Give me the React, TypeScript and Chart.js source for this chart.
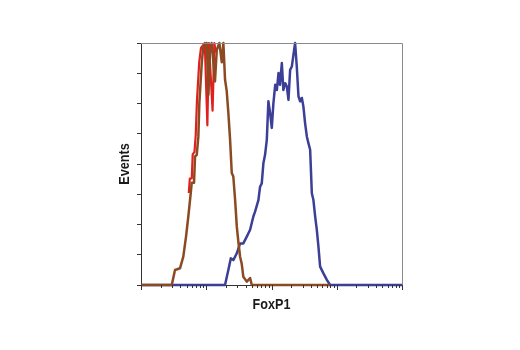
import React, { useEffect, useRef } from "react";
import { Chart, registerables } from "chart.js";

Chart.register(...registerables);

// Isotype/control (brown) histogram
const brownX = [1, 2.96, 3.32, 3.96, 4.45, 4.9, 5.31, 5.78, 5.99, 6.5, 6.73, 7.15, 7.57, 7.84, 8.53, 9.02, 10.2, 10.8, 11.4, 12.1, 13.6, 14.5, 15.9, 17.3, 18.3, 19.4, 20.6, 21.8, 23.2, 24.6, 26.0, 27.7, 29.4, 31.0, 33.0, 34.9, 37.0, 41.8, 47.0, 49.9, 790];
const brownY = [0, 0, 6.2, 6.9, 11.7, 20.0, 28.3, 37.9, 42.3, 42.3, 53.1, 53.8, 61.4, 75.2, 91.7, 98.6, 100, 78.6, 97.2, 100, 84.1, 97.2, 100, 92, 100, 84.9, 80.1, 71.2, 60, 46.3, 44.8, 35.1, 24.1, 18, 11.7, 8.9, 3.4, 1.4, 2.9, 0, 0];

// Second control (red) histogram, partly hidden under the brown one
const redX = [5.4, 5.6, 6.0, 6.2, 6.6, 6.9, 7.2, 7.8, 8.3, 9.5, 10.4, 11.0, 12.5, 13.3, 14.0];
const redY = [38, 44, 44, 54, 55, 62, 76, 92, 98, 100, 66, 100, 72, 100, 96];

// FoxP1 (blue) histogram
const blueX = [1, 19.4, 21.8, 23.8, 26.0, 29.4, 33.0, 37.0, 41.8, 47.0, 52.7, 56.0, 63.0, 66.8, 70.9, 75.1, 79.7, 84.7, 89.6, 95.1, 101, 107, 114, 121, 128, 135, 144, 152, 162, 172, 182, 193, 205, 217, 230, 244, 259, 275, 292, 308, 327, 348, 368, 391, 415, 439, 467, 495, 524, 556, 625, 705, 792, 10000];
const blueY = [0, 0, 6.2, 11.0, 10.3, 13.1, 17.2, 17.2, 20.0, 22.8, 28.3, 30.3, 35.1, 40.6, 42.0, 50.3, 53.8, 60, 75.9, 71.1, 64.9, 75.2, 82.7, 80.6, 87.6, 82.7, 91.7, 80.6, 83.4, 82.0, 76.5, 88.9, 90.3, 95.2, 100, 90.3, 78.0, 75.9, 77.3, 73.8, 66.9, 61.4, 58.6, 55.9, 37.9, 35.1, 28.3, 22.8, 15.9, 7.6, 4.8, 2.1, 0, 0];

const xTitle = "FoxP1";
const yTitle = "Events";

const pts = (xs: number[], ys: number[]) => xs.map((x, i) => ({ x, y: ys[i] }));

const decorPlugin = {
  id: "decor",
  afterDraw(chart: any) {
    const { ctx, chartArea, scales } = chart;
    const xs = scales.x;
    ctx.save();
    // top/right frame
    ctx.strokeStyle = "#8a8a8a";
    ctx.lineWidth = 1;
    ctx.beginPath();
    ctx.moveTo(chartArea.left, chartArea.top + 0.5);
    ctx.lineTo(chartArea.right + 0.5, chartArea.top + 0.5);
    ctx.lineTo(chartArea.right + 0.5, chartArea.bottom);
    ctx.stroke();
    // log ticks below x axis
    ctx.strokeStyle = "#333";
    for (let d = 0; d <= 4; d++) {
      for (let m = 1; m <= 9; m++) {
        const v = m * Math.pow(10, d);
        if (v > 10000) break;
        const px = Math.round(xs.getPixelForValue(v)) + 0.5;
        const len = m === 1 ? 5 : 3;
        ctx.beginPath();
        ctx.moveTo(px, chartArea.bottom);
        ctx.lineTo(px, chartArea.bottom + len);
        ctx.stroke();
      }
    }
    // titles (condensed bold)
    ctx.fillStyle = "#1a1a1a";
    ctx.font = "bold 15px 'Liberation Sans', Arial, sans-serif";
    ctx.textAlign = "center";
    ctx.textBaseline = "alphabetic";
    ctx.save();
    ctx.translate((chartArea.left + chartArea.right) / 2, 309);
    ctx.scale(0.84, 1);
    ctx.fillText(xTitle, 0, 0);
    ctx.restore();
    ctx.translate(128.5, (chartArea.top + chartArea.bottom) / 2);
    ctx.rotate(-Math.PI / 2);
    ctx.scale(0.84, 1);
    ctx.fillText(yTitle, 0, 0);
    ctx.restore();
  },
};

export default function App() {
  const ref = useRef<HTMLCanvasElement | null>(null);
  useEffect(() => {
    document.body.style.margin = "0";
    const canvas = ref.current!;
    const common = { pointRadius: 0, tension: 0, fill: false, clip: 6, borderJoinStyle: "round" as const };
    const chart = new Chart(canvas, {
      type: "line",
      data: {
        // Chart.js paints the first dataset on top
        datasets: [
          { data: pts(brownX, brownY), borderColor: "#8c4a22", borderWidth: 2.5, ...common },
          { data: pts(redX, redY), borderColor: "#e0201c", borderWidth: 2.2, ...common },
          { data: pts(blueX, blueY), borderColor: "#3b3f97", borderWidth: 2.5, ...common },
        ],
      },
      options: {
        animation: false,
        responsive: false,
        maintainAspectRatio: false,
        layout: { padding: { left: 101, right: 118, top: 43, bottom: 25 } },
        plugins: { legend: { display: false }, tooltip: { enabled: false } },
        scales: {
          x: {
            type: "logarithmic",
            min: 1,
            max: 10000,
            ticks: { display: false },
            grid: { display: false },
            border: { display: true, color: "#333" },
            afterFit: (s: any) => { s.height = 40; },
          },
          y: {
            min: 0,
            max: 100,
            ticks: { display: false, stepSize: 12.5 },
            grid: { drawOnChartArea: false, drawTicks: true, tickLength: 4, color: "#333" },
            border: { display: true, color: "#333" },
            afterFit: (s: any) => { s.width = 40; },
          },
        },
      },
      plugins: [decorPlugin],
    });
    return () => chart.destroy();
  }, []);
  return <canvas ref={ref} width={520} height={350} style={{ display: "block" }} />;
}
